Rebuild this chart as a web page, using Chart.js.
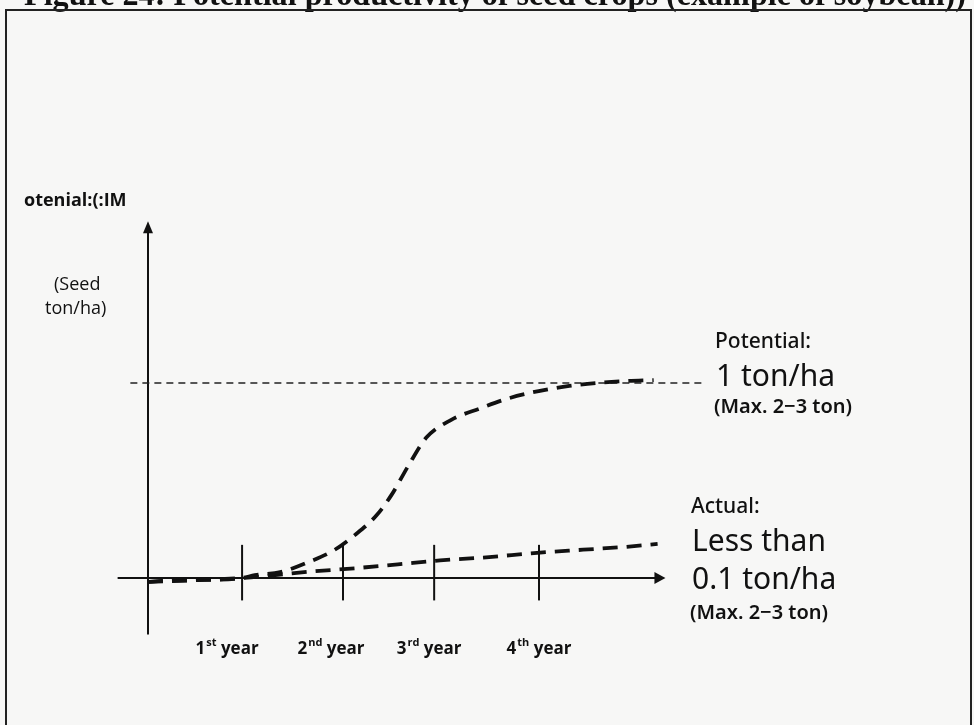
<!DOCTYPE html>
<html>
<head>
<meta charset="utf-8">
<script src="https://cdn.jsdelivr.net/npm/chart.js@4"></script>
<style>
  html, body { margin: 0; padding: 0; background: #f7f7f6; }
  #wrap { position: relative; width: 974px; height: 725px; overflow: hidden; }
</style>
</head>
<body>
<div id="wrap"><canvas id="growthChart" width="974" height="725"></canvas></div>
<script>
// Year ticks on the x axis (years after start)
const yearPos = [0.96, 1.99, 2.92, 3.99];
const yearNum = ['1', '2', '3', '4'];
const yearSup = ['st', 'nd', 'rd', 'th'];

// Potential yield curve (ton/ha)
const potentialX = [0, 0.14, 0.58, 0.96, 1.09, 1.35, 1.63, 1.89, 2.11, 2.33, 2.49, 2.65, 2.84, 3.09, 3.39, 3.67, 4.0, 4.3, 4.58, 4.88, 5.16];
const potentialY = [-0.02, -0.015, -0.01, 0, 0.015, 0.03, 0.08, 0.14, 0.22, 0.32, 0.43, 0.57, 0.72, 0.81, 0.87, 0.92, 0.96, 0.985, 1.0, 1.01, 1.015];

// Actual yield line (ton/ha)
const actualX = [0, 0.96, 1.71, 2.11, 2.55, 2.98, 3.42, 4.0, 4.44, 4.88, 5.2];
const actualY = [-0.02, 0, 0.035, 0.05, 0.07, 0.09, 0.105, 0.13, 0.145, 0.16, 0.175];

// Potential level reference line
const levelX = [-0.18, 5.68];
const levelY = [1.0, 1.0];

function toPoints(xs, ys) {
    return xs.map((x, i) => ({ x: x, y: ys[i] }));
}

// year labels in the scan are not centred on their ticks
const labelNudge = [-15, -12, -5, 0];

// draws axes, arrows, year ticks and all the text labels
const sketchPlugin = {
    id: 'sketch',
    beforeDatasetsDraw(chart) {
        const ctx = chart.ctx;
        const xs = chart.scales.x, ys = chart.scales.y;
        const x0 = xs.getPixelForValue(0), y0 = ys.getPixelForValue(0);
        ctx.save();
        ctx.strokeStyle = '#111';
        ctx.fillStyle = '#111';
        ctx.lineWidth = 2;

        // x axis
        const xEnd = xs.getPixelForValue(5.28);
        ctx.beginPath();
        ctx.moveTo(xs.getPixelForValue(-0.31), y0);
        ctx.lineTo(xEnd - 4, y0);
        ctx.stroke();
        ctx.beginPath();
        ctx.moveTo(xEnd, y0);
        ctx.lineTo(xEnd - 11, y0 - 6);
        ctx.lineTo(xEnd - 11, y0 + 6);
        ctx.closePath();
        ctx.fill();

        // y axis
        const yTop = ys.getPixelForValue(1.83);
        ctx.beginPath();
        ctx.moveTo(x0, ys.getPixelForValue(-0.29));
        ctx.lineTo(x0, yTop + 4);
        ctx.stroke();
        ctx.beginPath();
        ctx.moveTo(x0, yTop);
        ctx.lineTo(x0 - 5, yTop + 12);
        ctx.lineTo(x0 + 5, yTop + 12);
        ctx.closePath();
        ctx.fill();

        // year ticks
        yearPos.forEach(v => {
            const px = xs.getPixelForValue(v);
            ctx.beginPath();
            ctx.moveTo(px, ys.getPixelForValue(0.17));
            ctx.lineTo(px, ys.getPixelForValue(-0.115));
            ctx.stroke();
        });
        ctx.restore();
    },
    afterDatasetsDraw(chart) {
        const ctx = chart.ctx;
        const xs = chart.scales.x;
        ctx.save();
        ctx.fillStyle = '#111';
        ctx.textBaseline = 'alphabetic';

        // year labels with superscripts
        const big = 'bold 17px "Open Sans"', small = 'bold 11px "Open Sans"';
        yearPos.forEach((v, i) => {
            const cx = xs.getPixelForValue(v) + labelNudge[i];
            ctx.font = big;
            const wn = ctx.measureText(yearNum[i]).width;
            const wy = ctx.measureText(' year').width;
            ctx.font = small;
            const ws = ctx.measureText(yearSup[i]).width;
            let x = cx - (wn + ws + wy + 1) / 2;
            ctx.font = big;
            ctx.fillText(yearNum[i], x, 654);
            x += wn + 1;
            ctx.font = small;
            ctx.fillText(yearSup[i], x, 646);
            x += ws;
            ctx.font = big;
            ctx.fillText(' year', x, 654);
        });

        // y axis caption
        ctx.font = 'bold 18px "Open Sans"';
        ctx.fillText('otenial:(:IM', 24, 206);
        ctx.font = '18px "Open Sans"';
        ctx.fillText('(Seed', 54, 290);
        ctx.fillText('ton/ha)', 45, 314);

        // right side notes
        const f = '"Noto Sans"';
        ctx.font = '500 21px ' + f;
        ctx.fillText('Potential:', 715, 348);
        ctx.font = '30px ' + f;
        ctx.fillText('1 ton/ha', 716, 386);
        ctx.font = '600 20px ' + f;
        ctx.fillText('(Max. 2\u22123 ton)', 714, 413, 152);

        ctx.font = '500 21px ' + f;
        ctx.fillText('Actual:', 691, 513);
        ctx.font = '30px ' + f;
        ctx.fillText('Less than', 692, 551);
        ctx.fillText('0.1 ton/ha', 692, 589);
        ctx.font = '600 20px ' + f;
        ctx.fillText('(Max. 2\u22123 ton)', 690, 619, 152);

        // figure caption (clipped by the page top) and frame
        ctx.font = 'bold 33px "Liberation Serif"';
        ctx.fillText('Figure 24: Potential productivity of seed crops (example of soybean))', 24, 5, 942);
        ctx.strokeStyle = '#222';
        ctx.lineWidth = 2;
        ctx.strokeRect(6, 10, 965, 730);
        ctx.restore();
    }
};

const curveStyle = {
    borderColor: '#111',
    borderWidth: 3.8,
    borderDash: [15, 9],
    pointRadius: 0,
    fill: false,
    cubicInterpolationMode: 'monotone'
};

new Chart(document.getElementById('growthChart').getContext('2d'), {
    type: 'line',
    data: {
        datasets: [
            Object.assign({ label: 'Potential', data: toPoints(potentialX, potentialY) }, curveStyle),
            Object.assign({ label: 'Actual', data: toPoints(actualX, actualY) }, curveStyle),
            {
                label: 'Potential level',
                data: toPoints(levelX, levelY),
                borderColor: '#222',
                borderWidth: 1.6,
                borderDash: [7, 5],
                pointRadius: 0,
                fill: false
            }
        ]
    },
    options: {
        responsive: false,
        animation: false,
        events: [],
        layout: { padding: { left: 50, right: 140, top: 188, bottom: 69 } },
        plugins: {
            legend: { display: false },
            tooltip: { enabled: false }
        },
        scales: {
            x: { type: 'linear', min: -1, max: 7, display: false },
            y: { type: 'linear', min: -0.4, max: 2.0, display: false }
        }
    },
    plugins: [sketchPlugin]
});
</script>
</body>
</html>
